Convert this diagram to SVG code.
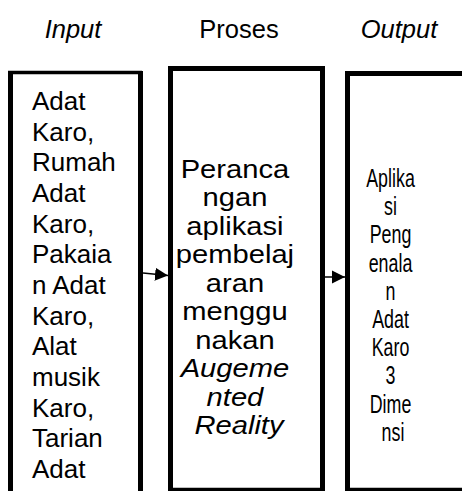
<svg xmlns="http://www.w3.org/2000/svg" width="462" height="491" viewBox="0 0 462 491">
  <style>
    .t { font-family: "Liberation Sans", Arial, sans-serif; font-size: 26px; fill: #000; }
    .t2 { font-family: "Liberation Sans", Arial, sans-serif; font-size: 26.5px; fill: #000; text-anchor: middle; }
    .t3 { font-family: "Liberation Sans", Arial, sans-serif; font-size: 25.5px; fill: #000; text-anchor: middle; }
    .title { font-family: "Liberation Sans", Arial, sans-serif; font-size: 25.5px; fill: #000; text-anchor: middle; }
    .it { font-style: italic; }
    .side { stroke: #000; stroke-width: 5; fill: none; }
    .top { stroke: #000; stroke-width: 3.5; fill: none; }
    .conn { stroke: #000; stroke-width: 1.5; fill: none; }
  </style>
  <defs>
    <marker id="head" markerUnits="userSpaceOnUse" markerWidth="14" markerHeight="14" refX="13" refY="7" orient="auto">
      <path d="M0,0.5 L13,7 L0,13.5 Z" fill="#000"/>
    </marker>
  </defs>
  <rect width="462" height="491" fill="#fff"/>

  <!-- column headings -->
  <g id="headings">
    <text class="title it" x="73" y="38">Input</text>
    <text class="title" x="239" y="38">Proses</text>
    <text class="title it" x="399" y="38">Output</text>
  </g>

  <!-- input box -->
  <g id="input">
    <path class="top" d="M8,72.5 H142"/>
    <path class="side" d="M10.5,71 V491 M140.5,71 V491"/>
    <text class="t">
      <tspan x="32" y="110">Adat</tspan>
      <tspan x="32" y="140.7">Karo,</tspan>
      <tspan x="32" y="171.3">Rumah</tspan>
      <tspan x="32" y="202">Adat</tspan>
      <tspan x="32" y="232.7">Karo,</tspan>
      <tspan x="32" y="263.3">Pakaia</tspan>
      <tspan x="32" y="294">n Adat</tspan>
      <tspan x="32" y="324.7">Karo,</tspan>
      <tspan x="32" y="355.3">Alat</tspan>
      <tspan x="32" y="386">musik</tspan>
      <tspan x="32" y="416.7">Karo,</tspan>
      <tspan x="32" y="447.3">Tarian</tspan>
      <tspan x="32" y="478">Adat</tspan>
    </text>
  </g>

  <!-- process box: slightly wide lettering -->
  <g id="proses">
    <path class="side" d="M170.5,66 V491 M322.5,66 V491 M168,68.5 H325"/>
    <path class="top" d="M170,489.5 H323"/>
    <g transform="translate(239,0) scale(1.1,1)">
      <text class="t2">
        <tspan x="0" y="178">Peranca</tspan>
        <tspan x="0" y="206.5">ngan</tspan>
        <tspan x="0" y="235">aplikasi</tspan>
        <tspan x="0" y="263.5">pembelaj</tspan>
        <tspan x="0" y="292">aran</tspan>
        <tspan x="0" y="320.5">menggu</tspan>
        <tspan x="0" y="349">nakan</tspan>
        <tspan x="0" y="377.5" class="it">Augeme</tspan>
        <tspan x="0" y="406" class="it">nted</tspan>
        <tspan x="0" y="434.5" class="it">Reality</tspan>
      </text>
    </g>
  </g>

  <!-- output box: narrow lettering -->
  <g id="output">
    <path class="side" d="M347.5,71 V491 M345,73.5 H462"/>
    <path class="top" d="M347,489.5 H462"/>
    <g transform="translate(393,0) scale(0.7,1)">
      <text class="t3">
        <tspan x="0" y="187">Aplika</tspan>
        <tspan x="0" y="215.2">si</tspan>
        <tspan x="0" y="243.4">Peng</tspan>
        <tspan x="0" y="271.6">enala</tspan>
        <tspan x="0" y="299.8">n</tspan>
        <tspan x="0" y="328">Adat</tspan>
        <tspan x="0" y="356.2">Karo</tspan>
        <tspan x="0" y="384.4">3</tspan>
        <tspan x="0" y="412.6">Dime</tspan>
        <tspan x="0" y="440.8">nsi</tspan>
      </text>
    </g>
  </g>

  <!-- connectors -->
  <g id="connectors">
    <path class="conn" d="M143,273 L168,275.5" marker-end="url(#head)"/>
    <path class="conn" d="M325,277 L345,277" marker-end="url(#head)"/>
  </g>
</svg>
